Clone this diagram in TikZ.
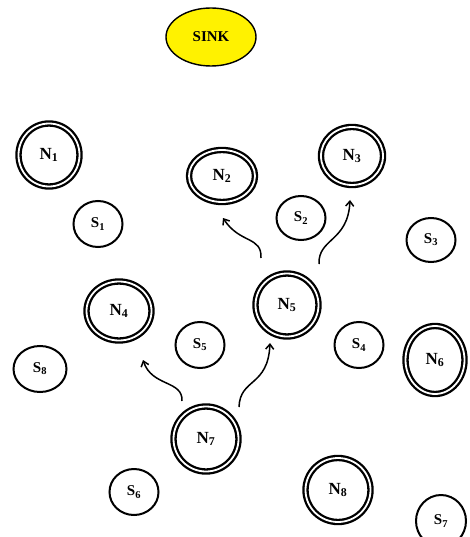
\documentclass[tikz,border=0pt]{standalone}
\usepackage{fontspec}
\setmainfont{Liberation Serif}
\usetikzlibrary{shapes.geometric,arrows.meta}
\tikzset{
  nnode/.style={ellipse, draw, line width=2.3pt, double, double distance=1.8pt,
    inner sep=0pt, minimum width=64pt, minimum height=62pt,
    font=\fontsize{17}{17}\selectfont\bfseries},
  snode/.style={ellipse, draw, line width=2pt, inner sep=0pt,
    minimum width=49pt, minimum height=46pt,
    font=\fontsize{15}{15}\selectfont\bfseries},
  sinknode/.style={ellipse, draw, line width=1.4pt, fill=yellow, inner sep=0pt,
    minimum width=90pt, minimum height=58pt,
    font=\fontsize{15}{15}\selectfont\bfseries},
  move/.style={line width=1.5pt, -{Straight Barb[length=5pt,width=8pt,line width=1.5pt]}}
}
\begin{document}
\begin{tikzpicture}[x=1pt,y=-1pt]
\useasboundingbox (0,0) rectangle (469,537);
\begin{scope}
\clip (0,0) rectangle (469,537);
\node[sinknode] (sink) at (211,37) {SINK};

\node[nnode, minimum width=61pt, minimum height=63pt] (n1) at (49,155) {N\textsubscript{1}};
\node[nnode, minimum width=66pt, minimum height=52pt] (n2) at (222,176) {N\textsubscript{2}};
\node[nnode, minimum width=62pt, minimum height=58pt] (n3) at (352,156) {N\textsubscript{3}};
\node[nnode, minimum width=65pt, minimum height=59pt] (n4) at (119,311) {N\textsubscript{4}};
\node[nnode, minimum width=63pt, minimum height=63pt] (n5) at (287,305) {N\textsubscript{5}};
\node[nnode, minimum width=59pt, minimum height=68pt] (n6) at (435,360) {N\textsubscript{6}};
\node[nnode, minimum width=65pt, minimum height=65pt] (n7) at (206,439) {N\textsubscript{7}};
\node[nnode, minimum width=65pt, minimum height=64pt] (n8) at (338,490) {N\textsubscript{8}};

\node[snode] (s1) at (98,224) {S\textsubscript{1}};
\node[snode, minimum height=44pt] (s2) at (301,218) {S\textsubscript{2}};
\node[snode, minimum height=44pt] (s3) at (431,240) {S\textsubscript{3}};
\node[snode] (s4) at (359,345) {S\textsubscript{4}};
\node[snode] (s5) at (200,345) {S\textsubscript{5}};
\node[snode] (s6) at (134,492) {S\textsubscript{6}};
\node[snode, minimum width=50pt, minimum height=52pt] (s7) at (441,521) {S\textsubscript{7}};
\node[snode, minimum width=53pt] (s8) at (40,369) {S\textsubscript{8}};

% movement hints from N5 and N7
\coordinate (a1s) at (261,258);
\coordinate (a1e) at (223,218);
\coordinate (a2s) at (319,264);
\coordinate (a2e) at (350,200);
\coordinate (a3s) at (182,401);
\coordinate (a3e) at (143,360);
\coordinate (a4s) at (239,407);
\coordinate (a4e) at (270,343);

\draw[move] (a1s) .. controls (262,236) and (240,244) .. (a1e);
\draw[move] (a2s) .. controls (318,238) and (348,242) .. (a2e);
\draw[move] (a3s) .. controls (183,380) and (152,387) .. (a3e);
\draw[move] (a4s) .. controls (240,378) and (268,387) .. (a4e);
\end{scope}
\end{tikzpicture}
\end{document}
